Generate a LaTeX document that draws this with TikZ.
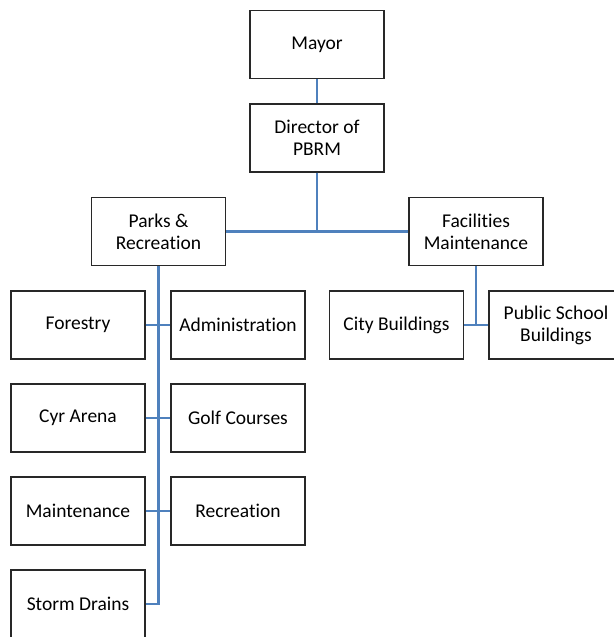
\documentclass[tikz,border=0pt]{standalone}
\usepackage{fontspec}
\setmainfont{Carlito}[Ligatures=NoCommon]
\usetikzlibrary{positioning}
\definecolor{linkblue}{RGB}{79,129,189}
\definecolor{edge}{RGB}{40,40,40}

\begin{document}
\begin{tikzpicture}[x=1pt,y=1pt]
\tikzset{unit/.style={draw=edge,line width=1.3pt,fill=white,minimum width=134pt,minimum height=68pt,align=center,inner sep=0pt,font=\fontsize{19.5}{22}\selectfont},
  link/.style={linkblue,line width=2.4pt}}
\useasboundingbox (0,0) rectangle (613,-637);
% top of the chart
\node[unit] (mayor) at (317,-44.5) {Mayor};
\node[unit] (dir) at (317,-138) {Director of\\PBRM};
\node[unit] (parks) at (158.5,-231.5) {Parks \&\\Recreation};
\node[unit] (fac) at (476,-231.5) {Facilities\\Maintenance};
% parks and recreation units
\node[unit] (forestry) at (78,-325) {Forestry};
\node[unit] (admin) at (238,-325) {Administration};
\node[unit] (cyr) at (78,-418) {Cyr Arena};
\node[unit] (golf) at (238,-418) {Golf Courses};
\node[unit] (maint) at (78,-511) {Maintenance};
\node[unit] (rec) at (238,-511) {Recreation};
\node[unit] (storm) at (78,-604) {Storm Drains};
% facilities units
\node[unit] (city) at (396.5,-325) {City Buildings};
\node[unit] (school) at (556,-325) {Public School\\Buildings};
% connectors
\draw[link] (mayor) -- (dir);
\draw[link] (dir.south) |- (parks.east);
\draw[link] (dir.south) |- (fac.west);
\draw[link] (parks.south) |- (storm.east);
\foreach \a/\b in {forestry/admin,cyr/golf,maint/rec} \draw[link] (\a) -- (\b);
\draw[link] (fac.south) -- (fac.south |- city.east);
\draw[link] (city) -- (school);
\end{tikzpicture}
\end{document}
